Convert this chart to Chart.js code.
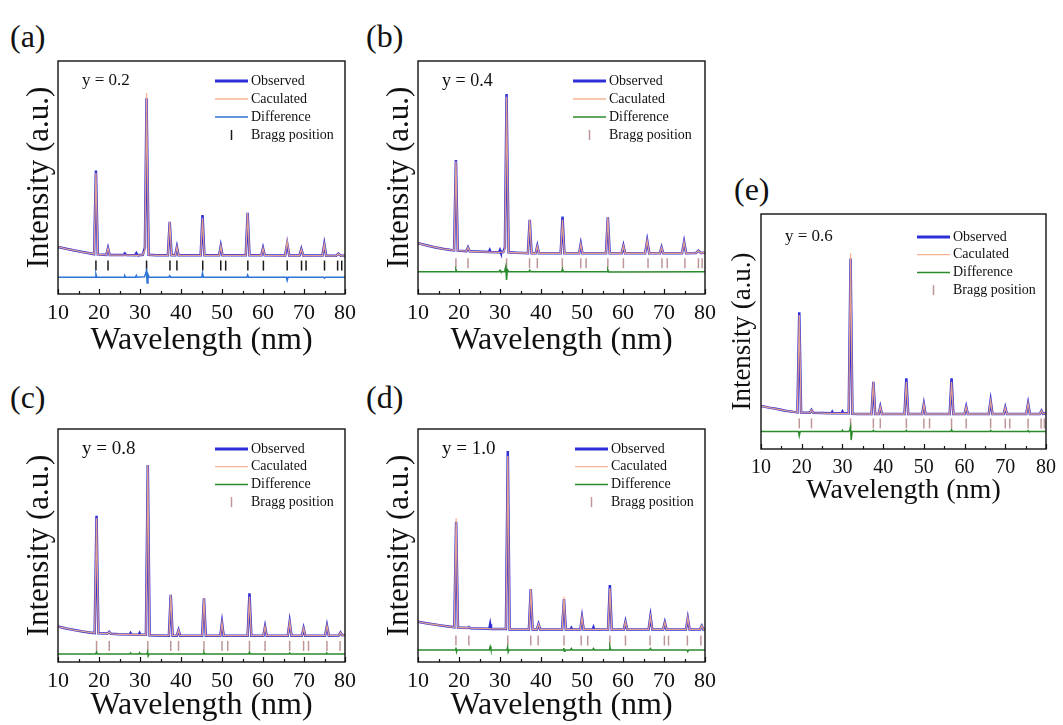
<!DOCTYPE html>
<html>
<head>
<meta charset="utf-8">
<script src="https://cdn.jsdelivr.net/npm/chart.js@4.4.1/dist/chart.umd.min.js"></script>
<style>
  body { margin: 0; background: #fff; width: 1063px; height: 725px; position: relative; overflow: hidden;
         font-family: 'Liberation Serif', 'Times New Roman', serif; }
  canvas { position: absolute; }
  .tag { position: absolute; font-size: 32px; line-height: 32px; color: #111; }
</style>
</head>
<body>
<div class="tag" style="left:10px;top:20px">(a)</div>
<div class="tag" style="left:366px;top:20px">(b)</div>
<div class="tag" style="left:10px;top:381px">(c)</div>
<div class="tag" style="left:366px;top:381px">(d)</div>
<div class="tag" style="left:734px;top:173px">(e)</div>

<canvas id="chartA" style="left:0px;top:0px" width="362" height="360"></canvas>
<canvas id="chartB" style="left:360px;top:0px" width="362" height="360"></canvas>
<canvas id="chartC" style="left:0px;top:368px" width="362" height="357"></canvas>
<canvas id="chartD" style="left:360px;top:368px" width="362" height="357"></canvas>
<canvas id="chartE" style="left:703px;top:153px" width="360" height="356"></canvas>

<script>
// ---- y = 0.2 ----
var xA = [10, 12, 14, 16, 18,
  18.8, 19.25, 19.7,  21.8, 22.2, 22.6,  26.0, 26.3, 26.6,  28.8, 29.1, 29.4,
  30.7, 31.2, 31.6, 32.1,  34,
  36.8, 37.25, 37.7,  38.6, 39.0, 39.4,  44.8, 45.25, 45.7,  49.3, 49.7, 50.1,
  55.8, 56.25, 56.7,  59.6, 60.0, 60.4,  65.4, 65.9, 66.4,  68.9, 69.35, 69.8,
  74.5, 74.95, 75.4,  77.8, 78.4, 79.0,  80];
var obsA = [20.2, 19.4, 18.7, 18.0, 17.4,
  17.1, 53.0, 17.0,  16.8, 19.7, 16.7,  16.7, 17.4, 16.7,  16.6, 17.5, 16.6,
  16.8, 20.0, 84.0, 16.8,  16.6,
  16.6, 31.0, 16.6,  16.6, 20.2, 16.6,  16.6, 33.9, 16.6,  16.6, 20.6, 16.6,
  16.6, 34.8, 16.6,  16.6, 19.7, 16.6,  16.5, 21.7, 16.5,  16.5, 19.3, 16.5,
  16.5, 21.4, 16.4,  16.4, 17.3, 16.4,  16.4];
var calcA = [20.2, 19.4, 18.7, 18.0, 17.4,
  17.1, 52.0, 17.0,  16.8, 19.7, 16.7,  16.7, 16.7, 16.7,  16.6, 16.6, 16.6,
  16.8, 19.0, 86.3, 16.8,  16.6,
  16.6, 31.0, 16.6,  16.6, 20.2, 16.6,  16.6, 32.6, 16.6,  16.6, 20.6, 16.6,
  16.6, 34.8, 16.6,  16.6, 19.7, 16.6,  16.5, 22.7, 16.5,  16.5, 19.3, 16.5,
  16.5, 21.4, 16.4,  16.4, 17.3, 16.4,  16.4];
var diffXA = [10, 19.05, 19.25, 19.45, 26.1, 26.3, 26.5, 28.9, 29.1, 29.3,
  31.1, 31.35, 31.55, 31.75, 31.95, 32.2, 37.05, 37.25, 37.45, 45.05, 45.25, 45.45,
  56.05, 56.25, 56.45, 65.7, 65.9, 66.1, 74.8, 75.0, 75.2, 80];
var diffA = [7.2, 7.2, 8.5, 7.2, 7.2, 7.8, 7.2, 7.2, 8.0, 7.2,
  7.4, 8.6, 9.8, 4.7, 8.4, 7.2, 7.2, 7.8, 7.2, 7.2, 9.0, 7.2,
  7.2, 8.2, 7.2, 7.2, 5.8, 7.2, 7.2, 6.8, 7.2, 7.2];
var braggA = [19.25, 22.2, 31.6, 37.3, 39.0, 45.3, 49.7, 50.9, 56.3, 60.1, 65.9, 69.4, 70.5, 75.0, 78.2, 79.2];
var braggLevelA = 12.2;

// ---- y = 0.4 ----
var xB = [10, 12, 14, 16, 18,
  18.8, 19.25, 19.7,  21.8, 22.2, 22.6,  27.3, 27.5, 27.7,  29.8, 30.0, 30.2,
  30.8, 31.2, 31.6, 32.1,  34,
  36.8, 37.25, 37.7,  38.7, 39.1, 39.5,  44.8, 45.25, 45.7,  49.3, 49.7, 50.1,
  55.85, 56.3, 56.75,  59.7, 60.1, 60.5,  65.4, 65.9, 66.4,  69.0, 69.4, 69.8,
  74.4, 74.9, 75.4,  77.8, 78.4, 79.0,  80];
var obsB = [21.8, 20.9, 20.1, 19.4, 18.9,
  18.7, 57.5, 18.6,  18.4, 20.0, 18.3,  18.0, 18.8, 18.0,  17.9, 18.8, 17.9,
  18.0, 20.0, 85.8, 17.9,  17.7,
  17.5, 31.8, 17.5,  17.5, 20.6, 17.5,  17.5, 33.2, 17.5,  17.5, 21.5, 17.5,
  17.5, 32.9, 17.5,  17.5, 20.7, 17.5,  17.5, 22.9, 17.5,  17.5, 20.0, 17.5,
  17.5, 22.4, 17.5,  17.6, 18.6, 17.6,  17.7];
var calcB = [21.8, 20.9, 20.1, 19.4, 18.9,
  18.7, 57.0, 18.6,  18.4, 20.0, 18.3,  18.0, 18.0, 18.0,  17.9, 17.9, 17.9,
  18.0, 19.2, 84.7, 17.9,  17.7,
  17.5, 31.8, 17.5,  17.5, 20.6, 17.5,  17.5, 31.8, 17.5,  17.5, 21.5, 17.5,
  17.5, 32.9, 17.5,  17.5, 20.7, 17.5,  17.5, 22.9, 17.5,  17.5, 20.0, 17.5,
  17.5, 22.4, 17.5,  17.6, 18.6, 17.6,  17.7];
var diffXB = [10, 19.05, 19.25, 19.45, 29.8, 30.0, 30.2, 31.1, 31.4, 31.6, 31.8, 32.1,
  37.05, 37.25, 37.45, 45.05, 45.25, 45.45, 56.1, 56.3, 56.5, 80];
var diffB = [9.6, 9.6, 10.5, 9.6, 9.6, 10.2, 9.6, 9.6, 11.7, 6.0, 10.4, 9.6,
  9.6, 10.2, 9.6, 9.6, 10.8, 9.6, 9.6, 10.4, 9.4, 9.6];
var braggB = [19.25, 22.2, 31.6, 37.2, 39.1, 45.2, 49.7, 51.0, 56.3, 60.1, 66.1, 69.5, 70.8, 75.1, 78.4, 79.3];
var braggLevelB = 13.2;

// ---- y = 0.8 ----
var xC = [10, 12, 14, 16, 18,
  18.95, 19.4, 19.85,  22.1, 22.5, 22.9,  25,  27.5, 27.7, 27.9,  29.7, 29.9, 30.1,
  31.45, 31.9, 32.35,  34,
  37.05, 37.5, 37.95,  39.0, 39.4, 39.8,  45.15, 45.6, 46.05,  49.6, 50.0, 50.4,
  56.25, 56.7, 57.15,  60.1, 60.5, 60.9,  66.05, 66.5, 66.95,  69.5, 69.9, 70.3,
  75.15, 75.6, 76.05,  78.5, 78.9, 79.3,  80];
var obsC = [15.2, 14.4, 13.7, 13.1, 12.6,
  12.4, 62.8, 12.3,  12.2, 12.9, 12.1,  11.9,  11.8, 12.4, 11.8,  11.7, 12.4, 11.7,
  11.7, 84.5, 11.5,  11.4,
  11.3, 28.8, 11.3,  11.3, 13.7, 11.3,  11.3, 27.3, 11.3,  11.3, 16.9, 11.3,
  11.3, 29.5, 11.3,  11.3, 15.2, 11.3,  11.3, 17.3, 11.3,  11.3, 14.5, 11.3,
  11.3, 15.6, 11.3,  11.4, 12.6, 11.5,  11.6];
var calcC = [15.2, 14.4, 13.7, 13.1, 12.6,
  12.4, 61.7, 12.3,  12.2, 12.9, 12.1,  11.9,  11.8, 11.8, 11.8,  11.7, 11.7, 11.7,
  11.7, 84.5, 11.5,  11.4,
  11.3, 28.8, 11.3,  11.3, 13.7, 11.3,  11.3, 27.3, 11.3,  11.3, 16.9, 11.3,
  11.3, 28.0, 11.3,  11.3, 15.2, 11.3,  11.3, 17.3, 11.3,  11.3, 14.5, 11.3,
  11.3, 15.6, 11.3,  11.4, 12.6, 11.5,  11.6];
var diffXC = [10, 19.2, 19.4, 19.6, 27.5, 27.7, 27.9, 29.7, 29.9, 30.1,
  31.7, 31.85, 32.0, 32.2, 45.4, 45.6, 45.8, 56.5, 56.7, 56.9, 66.3, 66.5, 66.7,
  75.4, 75.6, 75.8, 80];
var diffC = [3.4, 3.4, 4.3, 3.4, 3.4, 3.9, 3.4, 3.4, 4.0, 3.4,
  3.4, 4.3, 2.6, 3.4, 3.4, 4.1, 3.4, 3.4, 4.2, 3.4, 3.4, 3.9, 3.4,
  3.4, 3.8, 3.4, 3.4];
var braggC = [19.4, 22.5, 31.9, 37.5, 39.4, 45.6, 50.0, 51.4, 56.7, 60.5, 66.5, 69.9, 71.1, 75.6, 78.8];
var braggLevelC = 6.9;

// ---- y = 1.0 ----
var xD = [10, 12, 14, 16, 18,
  18.85, 19.3, 19.75,  22.0, 22.4, 22.8,  25,  27.4, 27.6, 27.8,
  31.45, 31.9, 32.35,  34,
  37.05, 37.5, 37.95,  39.0, 39.4, 39.8,  45.15, 45.6, 46.05,  47.2, 47.4, 47.6,
  49.6, 50.0, 50.4,  52.6, 52.8, 53.0,  56.35, 56.8, 57.25,  60.2, 60.6, 61.0,
  66.25, 66.7, 67.15,  69.8, 70.2, 70.6,  75.35, 75.8, 76.25,  78.8, 79.2, 79.6,  80];
var obsD = [17.3, 16.6, 16.1, 15.6, 15.1,
  14.9, 60.2, 14.8,  14.6, 15.0, 14.5,  14.4,  14.3, 16.2, 14.2,
  14.2, 90.6, 14.0,  14.0,
  14.0, 31.3, 14.0,  14.0, 16.3, 14.0,  14.0, 27.0, 14.0,  14.0, 14.6, 14.0,
  14.0, 19.2, 14.0,  14.0, 14.9, 14.0,  14.0, 33.0, 14.0,  14.0, 17.3, 14.0,
  14.0, 19.7, 14.0,  14.0, 17.0, 14.0,  14.0, 18.8, 14.0,  14.0, 15.5, 14.0,  14.0];
var calcD = [17.3, 16.6, 16.1, 15.6, 15.1,
  14.9, 61.7, 14.8,  14.6, 15.0, 14.5,  14.4,  14.3, 14.2, 14.2,
  14.2, 88.4, 14.0,  14.0,
  14.0, 31.3, 14.0,  14.0, 16.3, 14.0,  14.0, 28.0, 14.0,  14.0, 14.0, 14.0,
  14.0, 19.2, 14.0,  14.0, 14.0, 14.0,  14.0, 31.6, 14.0,  14.0, 17.3, 14.0,
  14.0, 19.7, 14.0,  14.0, 17.0, 14.0,  14.0, 19.0, 14.0,  14.0, 15.5, 14.0,  14.0];
var diffXD = [10, 19.1, 19.25, 19.4, 19.55, 27.4, 27.6, 27.8, 31.7, 31.85, 32.0, 32.2,
  45.4, 45.55, 45.7, 45.85, 47.2, 47.4, 47.6, 52.6, 52.8, 53.0, 56.6, 56.8, 57.0,
  66.5, 66.7, 66.9, 75.6, 75.8, 76.0, 80];
var diffD = [5.2, 5.2, 6.2, 4.4, 5.2, 5.2, 6.6, 5.2, 5.2, 6.4, 4.3, 5.2,
  5.2, 6.0, 4.6, 5.2, 5.2, 5.8, 5.2, 5.2, 5.8, 5.2, 5.2, 6.6, 5.2,
  5.2, 5.8, 5.2, 5.2, 4.5, 5.2, 5.2];
var braggD = [19.25, 22.4, 31.9, 37.5, 39.3, 45.6, 49.8, 51.4, 56.8, 60.6, 66.6, 70.1, 71.1, 75.7, 79.0];
var braggLevelD = 9.2;

// ---- y = 0.6 ----
var xE = [10, 12, 14, 16, 18,
  18.95, 19.4, 19.85,  22.0, 22.4, 22.8,  25,  27.3, 27.5, 27.7,  29.8, 30.0, 30.2,
  31.55, 32.0, 32.45,  34,
  37.15, 37.6, 38.05,  38.9, 39.3, 39.7,  45.25, 45.7, 46.15,  49.6, 50.0, 50.4,
  56.35, 56.8, 57.25,  60.0, 60.4, 60.8,  65.95, 66.4, 66.85,  69.6, 70.0, 70.4,
  75.15, 75.6, 76.05,  78.5, 78.9, 79.3,  80];
var obsE = [18.3, 17.6, 17.0, 16.3, 15.8,
  15.6, 58.2, 15.5,  15.4, 16.6, 15.4,  15.3,  15.2, 15.8, 15.2,  15.2, 15.9, 15.2,
  15.2, 81.1, 15.0,  14.9,
  14.9, 28.6, 14.9,  14.9, 18.0, 14.9,  14.9, 30.1, 14.9,  14.9, 19.1, 14.9,
  14.9, 30.1, 14.9,  14.9, 18.0, 14.9,  14.9, 20.6, 14.9,  14.9, 17.7, 14.9,
  14.9, 19.4, 14.9,  14.9, 16.3, 15.0,  15.2];
var calcE = [18.3, 17.6, 17.0, 16.3, 15.8,
  15.6, 57.0, 15.5,  15.4, 16.6, 15.4,  15.3,  15.2, 15.2, 15.2,  15.2, 15.2, 15.2,
  15.2, 83.3, 15.0,  14.9,
  14.9, 28.6, 14.9,  14.9, 18.0, 14.9,  14.9, 28.6, 14.9,  14.9, 19.1, 14.9,
  14.9, 28.6, 14.9,  14.9, 18.0, 14.9,  14.9, 20.6, 14.9,  14.9, 17.7, 14.9,
  14.9, 19.4, 14.9,  14.9, 16.3, 15.0,  15.2];
var diffXE = [10, 19.2, 19.4, 19.6, 29.8, 30.0, 30.2, 31.6, 31.8, 32.0, 32.15, 32.4,
  37.4, 37.6, 37.8, 45.5, 45.7, 45.9, 56.6, 56.8, 57.0, 66.2, 66.4, 66.6,
  75.4, 75.6, 75.8, 80];
var diffE = [7.4, 7.4, 5.6, 7.4, 7.4, 8.0, 7.4, 7.4, 8.2, 9.5, 3.8, 7.4,
  7.4, 7.9, 7.4, 7.4, 7.9, 7.4, 7.4, 8.2, 7.4, 7.4, 7.9, 7.4,
  7.4, 7.8, 7.4, 7.4];
var braggE = [19.4, 22.4, 32.0, 37.6, 39.3, 45.7, 50.0, 51.4, 56.8, 60.4, 66.4, 70.0, 71.1, 75.6, 78.8, 79.6];
var braggLevelE = 10.9;

var xTicks = [10, 20, 30, 40, 50, 60, 70, 80];

var SERIF = "'Liberation Serif', 'Times New Roman', serif";
Chart.defaults.font.family = SERIF;
Chart.defaults.color = '#111';

function pts(xs, ys) {
  return xs.map(function (x, i) { return { x: x, y: ys[i] }; });
}

// box, inward x ticks, sample label and legend drawn inside the plot
var framePlugin = {
  id: 'frame',
  afterDraw: function (chart, args, opts) {
    var ctx = chart.ctx, area = chart.chartArea, xs = chart.scales.x;
    ctx.save();
    ctx.strokeStyle = '#111';
    ctx.lineWidth = 1.2;
    for (var v = 10; v <= 80; v += 5) {
      var px = Math.round(xs.getPixelForValue(v)) + 0.5;
      var len = (v % 10 === 0) ? 5 : 3;
      ctx.beginPath();
      ctx.moveTo(px, area.bottom);
      ctx.lineTo(px, area.bottom - len);
      ctx.stroke();
    }
    ctx.lineWidth = 1.4;
    ctx.strokeRect(area.left, area.top, area.right - area.left, area.bottom - area.top);

    ctx.fillStyle = '#111';
    ctx.textBaseline = 'middle';
    ctx.font = opts.sampleSize + 'px ' + SERIF;
    ctx.fillText(opts.sample, opts.sampleX, opts.legendY);

    ctx.font = '14px ' + SERIF;
    var lx = opts.legendX, lw = 33;
    chart.data.datasets.forEach(function (ds, i) {
      var y = opts.legendY + i * opts.rowGap;
      ctx.strokeStyle = ds.borderColor || ds.pointBorderColor;
      if (ds.legendMark === 'bar') {
        ctx.lineWidth = 1.5;
        ctx.beginPath();
        ctx.moveTo(lx + lw / 2, y - 5);
        ctx.lineTo(lx + lw / 2, y + 5);
        ctx.stroke();
      } else {
        ctx.lineWidth = ds.legendWidth || ds.borderWidth;
        ctx.beginPath();
        ctx.moveTo(lx, y);
        ctx.lineTo(lx + lw, y);
        ctx.stroke();
      }
      ctx.fillText(ds.label, lx + lw + 3, y);
    });
    ctx.restore();
  }
};

function makePanel(id, p) {
  var ctx = document.getElementById(id).getContext('2d');
  return new Chart(ctx, {
    type: 'scatter',
    data: {
      datasets: [
        { label: 'Observed', data: pts(p.x, p.obs), showLine: true, borderColor: '#2f2fd8',
          borderWidth: 2.5, legendWidth: 3, pointRadius: 0, tension: 0, order: 2 },
        { label: 'Caculated', data: pts(p.x, p.calc), showLine: true, borderColor: 'rgba(245,172,136,0.9)',
          borderWidth: 1.3, pointRadius: 0, tension: 0, order: 1 },
        { label: 'Difference', data: pts(p.diffX, p.diff), showLine: true, borderColor: p.diffColor,
          borderWidth: 1.5, pointRadius: 0, tension: 0, order: 3 },
        { label: 'Bragg position', legendMark: 'bar',
          data: p.bragg.map(function (b) { return { x: b, y: p.braggLevel }; }),
          showLine: false, pointStyle: 'line', pointRotation: 90, rotation: 90,
          pointRadius: 5, pointHoverRadius: 5, borderColor: p.braggColor,
          pointBorderColor: p.braggColor, borderWidth: 1.5, pointBorderWidth: 1.5, order: 4 }
      ]
    },
    options: {
      responsive: false,
      animation: false,
      events: [],
      layout: { padding: { top: p.padTop, right: p.padRight, left: 0, bottom: 0 } },
      plugins: {
        legend: { display: false },
        tooltip: { enabled: false },
        frame: p.frame
      },
      scales: {
        x: {
          type: 'linear', min: 10, max: 80,
          afterFit: function (s) { s.height = p.xHeight; },
          afterBuildTicks: function (s) { s.ticks = xTicks.map(function (v) { return { value: v }; }); },
          grid: { display: false, drawTicks: false },
          border: { display: false },
          ticks: { font: { family: SERIF, size: p.tickSize }, padding: p.tickPad, maxRotation: 0,
                   autoSkip: false, color: '#111' },
          title: { display: true, text: 'Wavelength (nm)', font: { family: SERIF, size: p.xTitleSize },
                   padding: { top: 0, bottom: p.xTitlePad }, color: '#111' }
        },
        y: {
          min: 0, max: 100,
          afterFit: function (s) { s.width = p.yWidth; },
          grid: { display: false, drawTicks: false },
          border: { display: false },
          ticks: { display: false },
          title: { display: true, text: 'Intensity (a.u.)', font: { family: SERIF, size: p.yTitleSize },
                   padding: { top: p.yTitlePad, bottom: 0 }, color: '#111' }
        }
      }
    },
    plugins: [framePlugin]
  });
}

var big = { padTop: 61, padRight: 14, yWidth: 58, tickSize: 22, tickPad: 6,
            xTitleSize: 32, yTitleSize: 31, yTitlePad: 21 };

function merge(a, b) {
  var o = {};
  Object.keys(a).forEach(function (k) { o[k] = a[k]; });
  Object.keys(b).forEach(function (k) { o[k] = b[k]; });
  return o;
}

makePanel('chartA', merge(big, {
  x: xA, obs: obsA, calc: calcA, diffX: diffXA, diff: diffA, bragg: braggA, braggLevel: braggLevelA,
  diffColor: '#2f74d6', braggColor: '#1a1a1a', xHeight: 66, xTitlePad: 0,
  frame: { sample: 'y = 0.2', sampleSize: 17, sampleX: 82, legendX: 215, legendY: 81, rowGap: 18 }
}));
makePanel('chartB', merge(big, {
  x: xB, obs: obsB, calc: calcB, diffX: diffXB, diff: diffB, bragg: braggB, braggLevel: braggLevelB,
  diffColor: '#2b8a2b', braggColor: '#bf9698', xHeight: 66, xTitlePad: 0,
  frame: { sample: 'y = 0.4', sampleSize: 18, sampleX: 82, legendX: 213, legendY: 81, rowGap: 18 }
}));
makePanel('chartC', merge(big, {
  x: xC, obs: obsC, calc: calcC, diffX: diffXC, diff: diffC, bragg: braggC, braggLevel: braggLevelC,
  diffColor: '#2b8a2b', braggColor: '#bf9698', xHeight: 63, xTitlePad: 0,
  frame: { sample: 'y = 0.8', sampleSize: 19, sampleX: 82, legendX: 215, legendY: 81, rowGap: 17.7 }
}));
makePanel('chartD', merge(big, {
  x: xD, obs: obsD, calc: calcD, diffX: diffXD, diff: diffD, bragg: braggD, braggLevel: braggLevelD,
  diffColor: '#2b8a2b', braggColor: '#bf9698', xHeight: 63, xTitlePad: 0,
  frame: { sample: 'y = 1.0', sampleSize: 19, sampleX: 82, legendX: 215, legendY: 81, rowGap: 17.7 }
}));
makePanel('chartE', {
  x: xE, obs: obsE, calc: calcE, diffX: diffXE, diff: diffE, bragg: braggE, braggLevel: braggLevelE,
  diffColor: '#2b8a2b', braggColor: '#bf9698',
  padTop: 61, padRight: 13, yWidth: 58, xHeight: 60, tickSize: 20, tickPad: 7,
  xTitleSize: 28, xTitlePad: 2, yTitleSize: 27, yTitlePad: 24,
  frame: { sample: 'y = 0.6', sampleSize: 17, sampleX: 82, legendX: 214, legendY: 84, rowGap: 17.7 }
});
</script>
</body>
</html>
